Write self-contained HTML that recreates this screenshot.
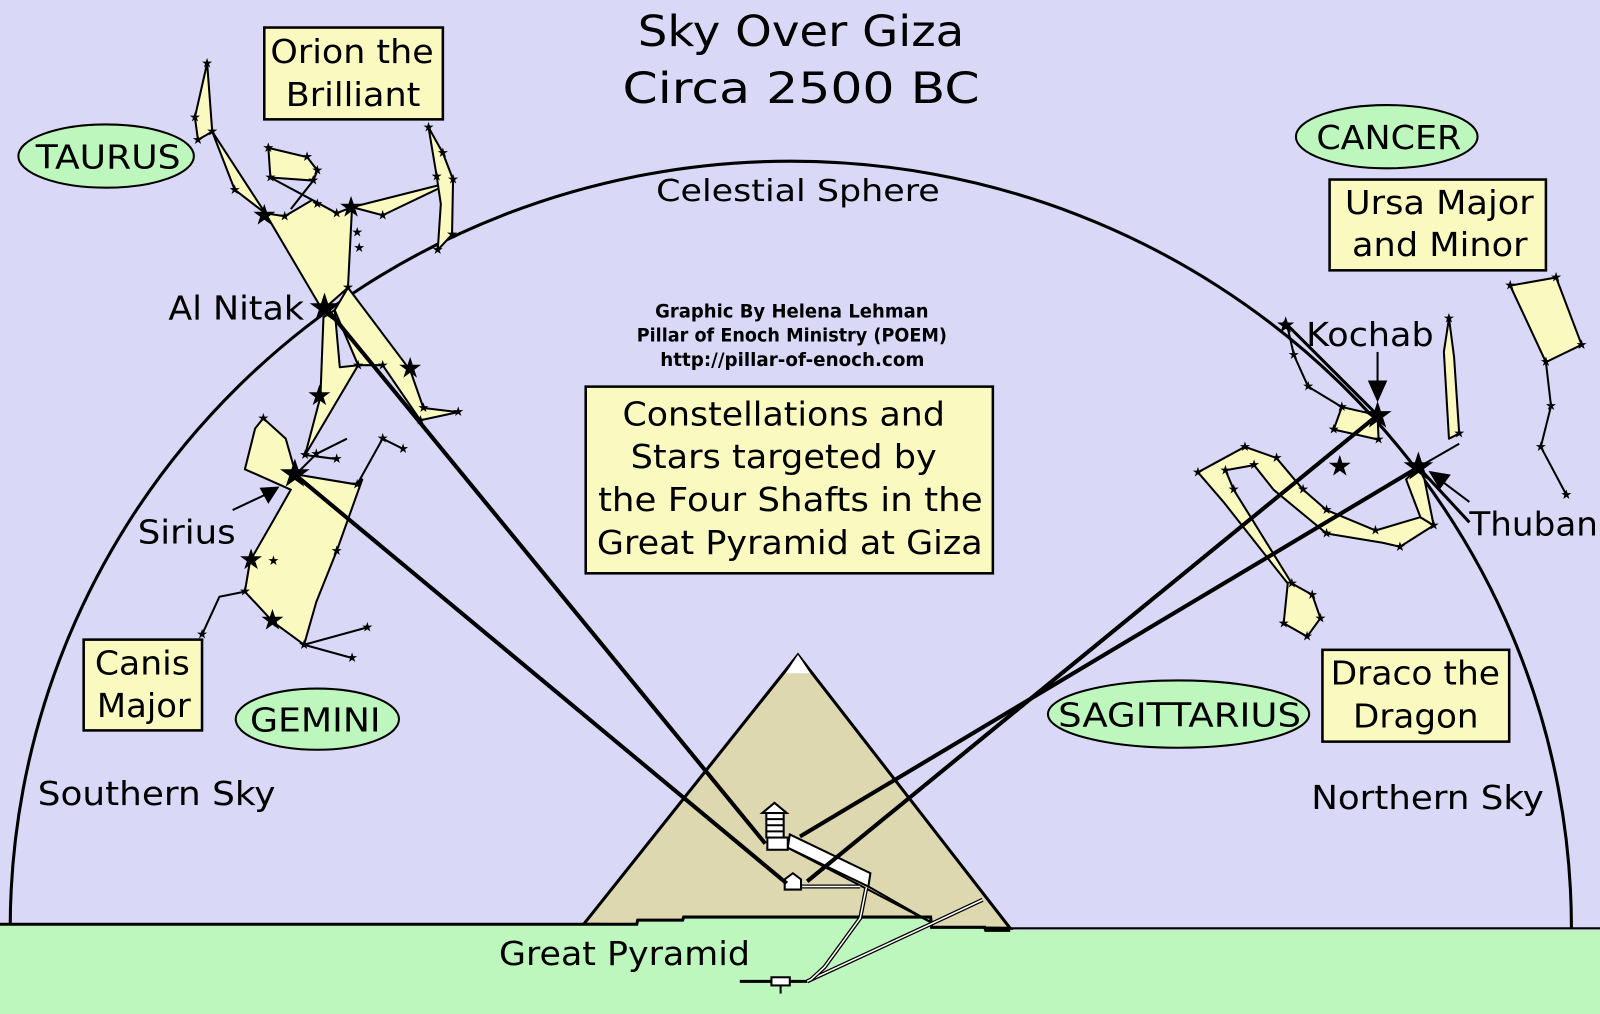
<!DOCTYPE html>
<html><head><meta charset="utf-8"><style>
html,body{margin:0;padding:0;background:#d9d9f7;}
svg{display:block}
text{font-family:"DejaVu Sans","Liberation Sans",sans-serif;fill:#000}
</style></head><body>
<svg width="1600" height="1014" viewBox="0 0 1568 994" preserveAspectRatio="none" xmlns="http://www.w3.org/2000/svg">
<rect width="1568" height="994" fill="#d9d9f7"/>
<!-- dome -->
<path d="M10,910 A765,752 0 0 1 1540,910" fill="none" stroke="#000" stroke-width="3"/>
<!-- pyramid -->
<polygon points="782,642 572,906 990,910" fill="#ddd8b0" stroke="#000" stroke-width="3"/>
<polygon points="782,642 770,660 794,660" fill="#fff"/>
<!-- ground -->
<path d="M0,906 L624,906 L625,902 L669,902 L670,899 L912,899 L913,909 L965,909 L966,912 L1568,912 L1568,994 L0,994 Z" fill="#bdf7bd"/>
<path d="M0,906 L624,906 L625,902 L669,902 L670,899 L912,899 L913,909 L965,909 L966,912 L990,912" fill="none" stroke="#000" stroke-width="3"/>
<line x1="990" y1="910" x2="1568" y2="910" stroke="#000" stroke-width="2"/>
<!-- internal passages -->
<g stroke="#000" stroke-width="2" fill="#fff">
<line x1="772" y1="831" x2="914" y2="905"/>
<line x1="851" y1="869" x2="914" y2="905"/>
<polyline points="963,882 914,905 791,962" fill="none" stroke-width="4"/>
<polyline points="963,882 914,905 791,962" fill="none" stroke="#fff" stroke-width="1.5"/>
<polyline points="849,870 843,900 808,948 795,960" fill="none" stroke-width="4"/>
<polyline points="849,870 843,900 808,948 795,960" fill="none" stroke="#fff" stroke-width="1.5"/>
<polygon points="774,818 853,856 851,869 772,831"/>
<line x1="786" y1="869" x2="843" y2="869" stroke-width="4"/>
<line x1="786" y1="869" x2="843" y2="869" stroke="#fff" stroke-width="1.5"/>
<line x1="725" y1="962" x2="791" y2="962" stroke-width="3"/>
<rect x="752" y="821" width="20" height="12"/>
<rect x="751" y="797" width="17" height="24" fill="#fff"/>
<line x1="751" y1="803" x2="768" y2="803"/><line x1="751" y1="809" x2="768" y2="809"/><line x1="751" y1="815" x2="768" y2="815"/>
<polygon points="747,797 759,787 771,797" fill="#fff"/>
<polygon points="769,872 769,862 777,856 785,862 785,872" fill="#fff"/>
<rect x="756" y="958" width="18" height="8"/>
<line x1="765" y1="966" x2="765" y2="974"/>
</g>
<!-- constellations -->
<g fill="#fafac0" stroke="#000" stroke-width="2" stroke-linejoin="round">
<polygon points="203,62 191,115 194,137 208,129"/>
<polygon points="208,129 230,186 260,209"/>
<polygon points="263,145 301,154 311,167 307,177 265,174"/>
<polyline points="265,174 306,196" fill="none"/>
<polyline points="307,177 285,205" fill="none"/>
<polygon points="260,209 279,212 306,196 330,209 345,203 341,282 316,304"/>
<polygon points="345,203 444,178 375,211"/>
<polygon points="420,125 434,150 444,176 443,230 429,245 432,200 428,173"/>
<polygon points="341,282 402,363 415,400 449,404 412,412 375,358 351,358 328,304"/>
<polygon points="317,311 314,389 299,446 351,358 333,360 328,304"/>
<polyline points="299,446 330,450" fill="none"/>
<!-- Canis Major -->
<polygon points="258,410 280,430 290,465 350,475 355,470 330,540 310,590 298,632 268,610 240,580 245,550 268,510 285,480 240,460 250,420"/>
<polyline points="350,475 375,430 395,440" fill="none"/>
<polyline points="290,465 310,445 340,430" fill="none"/>
<polyline points="240,580 215,585 198,622" fill="none"/>
<polyline points="298,632 360,615" fill="none"/>
<polyline points="298,632 345,645" fill="none"/>
<!-- Ursa Major -->
<polygon points="1480,280 1525,272 1550,338 1515,355"/>
<polyline points="1515,355 1520,398 1510,438 1535,485" fill="none"/>
<!-- Ursa Minor -->
<polyline points="1261,317 1268,348 1282,379 1315,399" fill="none"/>
<polygon points="1315,399 1350,407 1351,431 1307,421"/>
<polygon points="1420,312 1425,350 1430,425 1420,430 1415,345"/>
<!-- Draco -->
<polygon points="1174,463 1220,438 1251,449 1277,480 1300,500 1348,520 1392,507 1405,515 1372,536 1355,532 1300,523 1248,480 1229,456 1201,461 1209,480 1266,572 1286,583 1294,606 1281,624 1258,611 1262,572 1199,492"/>
<polygon points="1390,458 1378,470 1392,507 1405,515 1396,470"/>
<polyline points="1390,458 1430,435" fill="none"/>
</g>
<!-- shafts -->
<g stroke="#000" stroke-width="4">
<line x1="750" y1="827" x2="318" y2="300"/>
<line x1="771" y1="866" x2="290" y2="466"/>
<line x1="784" y1="820" x2="1390" y2="458"/>
<line x1="791" y1="864" x2="1350" y2="407"/>
<line x1="1350" y1="407" x2="1258" y2="315" stroke-width="3"/>
<line x1="1390" y1="458" x2="1440" y2="512" stroke-width="3"/>
</g>
<!-- stars -->
<g fill="#000" font-size="28" text-anchor="middle" font-family="DejaVu Sans">
<text x="259" y="220">★</text><text x="344" y="212">★</text><text x="318" y="314" font-size="38">★</text>
<text x="402" y="370">★</text><text x="313" y="397">★</text><text x="289" y="477" font-size="38">★</text>
<text x="246" y="558">★</text><text x="267" y="617">★</text><text x="1350" y="419" font-size="36">★</text>
<text x="1390" y="470" font-size="38">★</text><text x="1313" y="466">★</text><text x="1260" y="326" font-size="22">★</text>
</g>
<g fill="#000" font-size="13" text-anchor="middle" font-family="DejaVu Sans">
<text x="203" y="66">★</text><text x="191" y="119">★</text><text x="194" y="141">★</text><text x="208" y="133">★</text><text x="230" y="190">★</text>
<text x="420" y="129">★</text><text x="444" y="180">★</text><text x="443" y="234">★</text><text x="429" y="249">★</text><text x="428" y="177">★</text><text x="434" y="154">★</text>
<text x="263" y="149">★</text><text x="301" y="158">★</text><text x="311" y="171">★</text><text x="307" y="181">★</text><text x="265" y="178">★</text>
<text x="279" y="216">★</text><text x="330" y="213">★</text><text x="375" y="215">★</text><text x="311" y="204">★</text><text x="350" y="232">★</text><text x="352" y="247">★</text>
<text x="341" y="286">★</text><text x="415" y="404">★</text><text x="449" y="408">★</text><text x="412" y="416">★</text><text x="375" y="362">★</text><text x="351" y="362">★</text><text x="299" y="450">★</text><text x="330" y="454">★</text>
<text x="258" y="414">★</text><text x="350" y="479">★</text><text x="375" y="434">★</text><text x="395" y="444">★</text><text x="310" y="449">★</text>
<text x="330" y="544">★</text><text x="298" y="636">★</text><text x="360" y="619">★</text><text x="345" y="649">★</text><text x="198" y="626">★</text><text x="240" y="584">★</text><text x="268" y="554">★</text>
<text x="1480" y="284">★</text><text x="1525" y="276">★</text><text x="1550" y="342">★</text><text x="1515" y="359">★</text><text x="1520" y="402">★</text><text x="1510" y="442">★</text><text x="1535" y="489">★</text>
<text x="1174" y="467">★</text><text x="1220" y="442">★</text><text x="1251" y="453">★</text><text x="1277" y="484">★</text><text x="1300" y="504">★</text><text x="1348" y="524">★</text><text x="1405" y="519">★</text><text x="1372" y="540">★</text><text x="1300" y="527">★</text>
<text x="1229" y="460">★</text><text x="1201" y="465">★</text><text x="1209" y="484">★</text><text x="1266" y="576">★</text><text x="1286" y="587">★</text><text x="1294" y="610">★</text><text x="1281" y="628">★</text><text x="1258" y="615">★</text>
<text x="1420" y="316">★</text><text x="1430" y="429">★</text><text x="1268" y="352">★</text><text x="1282" y="383">★</text><text x="1315" y="403">★</text><text x="1307" y="425">★</text><text x="1351" y="435">★</text>
</g>
<!-- arrows -->
<g stroke="#000" stroke-width="2" fill="#000">
<line x1="228" y1="500" x2="262" y2="484"/><polygon points="272,478 256,479 263,492"/>
<line x1="1350" y1="345" x2="1350" y2="380"/><polygon points="1350,392 1342,374 1358,374"/>
<line x1="1440" y1="492" x2="1412" y2="471"/><polygon points="1402,463 1420,466 1411,478"/>
</g>
<!-- titles -->
<text x="625" y="45" font-size="42" textLength="320" lengthAdjust="spacingAndGlyphs">Sky Over Giza</text>
<text x="610" y="101" font-size="42" textLength="350" lengthAdjust="spacingAndGlyphs">Circa 2500 BC</text>
<text x="643" y="197" font-size="30" textLength="278" lengthAdjust="spacingAndGlyphs">Celestial Sphere</text>
<g font-size="18" font-weight="bold">
<text x="642" y="311" textLength="268" lengthAdjust="spacingAndGlyphs">Graphic By Helena Lehman</text>
<text x="624" y="335" textLength="304" lengthAdjust="spacingAndGlyphs">Pillar of Enoch Ministry (POEM)</text>
<text x="647" y="359" textLength="259" lengthAdjust="spacingAndGlyphs">http://pillar-of-enoch.com</text>
</g>
<!-- boxes -->
<g fill="#fafac0" stroke="#000" stroke-width="2.5">
<rect x="574" y="379" width="399" height="183"/>
<rect x="259" y="27" width="175" height="90"/>
<rect x="1303" y="176" width="212" height="89"/>
<rect x="82" y="627" width="116" height="89"/>
<rect x="1296" y="637" width="183" height="90"/>
</g>
<g fill="#bdf7bd" stroke="#000" stroke-width="2">
<ellipse cx="104" cy="153" rx="86" ry="31"/>
<ellipse cx="1359" cy="134" rx="89" ry="31"/>
<ellipse cx="311" cy="705" rx="80" ry="30"/>
<ellipse cx="1155" cy="700" rx="128" ry="33"/>
</g>
<g font-size="32">
<text x="610" y="417" textLength="316" lengthAdjust="spacingAndGlyphs">Constellations and</text>
<text x="618" y="459" textLength="300" lengthAdjust="spacingAndGlyphs">Stars targeted by</text>
<text x="586" y="501" textLength="377" lengthAdjust="spacingAndGlyphs">the Four Shafts in the</text>
<text x="585" y="543" textLength="378" lengthAdjust="spacingAndGlyphs">Great Pyramid at Giza</text>
<text x="265" y="62" textLength="160" lengthAdjust="spacingAndGlyphs">Orion the</text>
<text x="280" y="104" textLength="132" lengthAdjust="spacingAndGlyphs">Brilliant</text>
<text x="1318" y="210" textLength="185" lengthAdjust="spacingAndGlyphs">Ursa Major</text>
<text x="1325" y="251" textLength="172" lengthAdjust="spacingAndGlyphs">and Minor</text>
<text x="93" y="661" textLength="93" lengthAdjust="spacingAndGlyphs">Canis</text>
<text x="95" y="703" textLength="92" lengthAdjust="spacingAndGlyphs">Major</text>
<text x="1304" y="671" textLength="166" lengthAdjust="spacingAndGlyphs">Draco the</text>
<text x="1326" y="713" textLength="123" lengthAdjust="spacingAndGlyphs">Dragon</text>
<text x="35" y="165" textLength="142" lengthAdjust="spacingAndGlyphs">TAURUS</text>
<text x="1290" y="146" textLength="142" lengthAdjust="spacingAndGlyphs">CANCER</text>
<text x="245" y="717" textLength="128" lengthAdjust="spacingAndGlyphs">GEMINI</text>
<text x="1037" y="712" textLength="238" lengthAdjust="spacingAndGlyphs">SAGITTARIUS</text>
<text x="165" y="313" textLength="133" lengthAdjust="spacingAndGlyphs">Al Nitak</text>
<text x="1280" y="339" textLength="125" lengthAdjust="spacingAndGlyphs">Kochab</text>
<text x="135" y="533" textLength="96" lengthAdjust="spacingAndGlyphs">Sirius</text>
<text x="1440" y="525" textLength="126" lengthAdjust="spacingAndGlyphs">Thuban</text>
<text x="37" y="789" textLength="233" lengthAdjust="spacingAndGlyphs">Southern Sky</text>
<text x="1285" y="793" textLength="228" lengthAdjust="spacingAndGlyphs">Northern Sky</text>
<text x="489" y="946" textLength="246" lengthAdjust="spacingAndGlyphs">Great Pyramid</text>
</g>
</svg>
</body></html>
